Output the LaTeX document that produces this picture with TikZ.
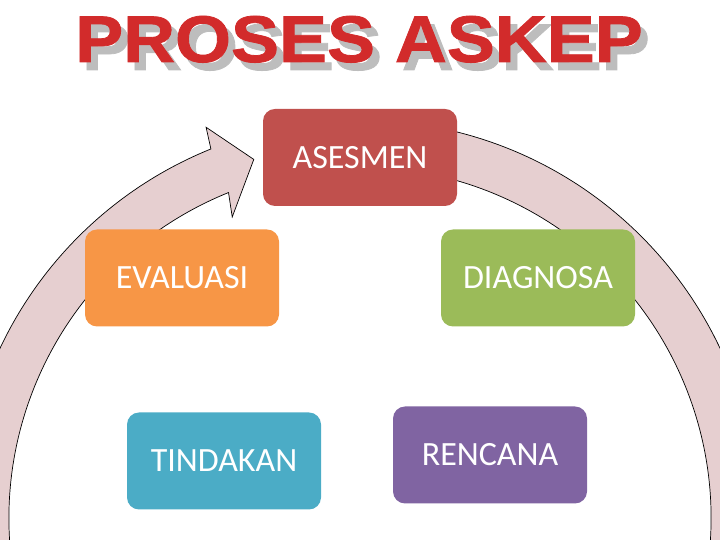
\documentclass[tikz,border=0pt]{standalone}
\usepackage{fontspec}
\usepackage{graphicx}
\setmainfont{Carlito}
\newfontfamily\judulfont[FakeBold=1.2]{Liberation Sans}
\definecolor{merah}{HTML}{C0504D}
\definecolor{oranye}{HTML}{F79646}
\definecolor{hijau}{HTML}{9BBB59}
\definecolor{biru}{HTML}{4BACC6}
\definecolor{ungu}{HTML}{8064A2}
\definecolor{pinkpanah}{HTML}{E6CFD0}
\definecolor{judulmerah}{HTML}{D22B2B}
\definecolor{bayang}{HTML}{BDBDBD}
\begin{document}
\begin{tikzpicture}[x=1pt,y=1pt,
    kotak/.style={rounded corners=12pt,minimum width=194pt,minimum height=97pt,
      text=white,font=\fontsize{34}{40}\selectfont},
    panah/.style={fill=pinkpanah,draw=black,line width=0.7pt},
    judul/.style={anchor=base,inner sep=0pt,font={\judulfont\bfseries\fontsize{66}{70}\selectfont}}]
  \useasboundingbox (0,0) rectangle (720,540);
  \clip (0,0) rectangle (720,540);
  \begin{scope}[shift={(360,22)}]
    \draw[panah] (82:398pt) arc[start angle=82,end angle=-248,radius=398pt]
      -- (111.5:420pt) -- (106.5:374pt) -- (113:327pt) -- (112:351pt)
      arc[start angle=-248,end angle=82,radius=351pt] -- cycle;
  \end{scope}
  \node[judul,text=bayang] (bayangan) at (366,470) {\scalebox{1.09}[1]{PROSES ASKEP}};
  \node[judul,text=judulmerah] (judul) at (359,478) {\scalebox{1.09}[1]{PROSES ASKEP}};
  \node[kotak,fill=merah] (asesmen) at (360,382.5) {ASESMEN};
  \node[kotak,fill=oranye] (evaluasi) at (182,262) {EVALUASI};
  \node[kotak,fill=hijau] (diagnosa) at (538,262) {DIAGNOSA};
  \node[kotak,fill=biru] (tindakan) at (224,79) {TINDAKAN};
  \node[kotak,fill=ungu] (rencana) at (490,85) {RENCANA};
\end{tikzpicture}
\end{document}
